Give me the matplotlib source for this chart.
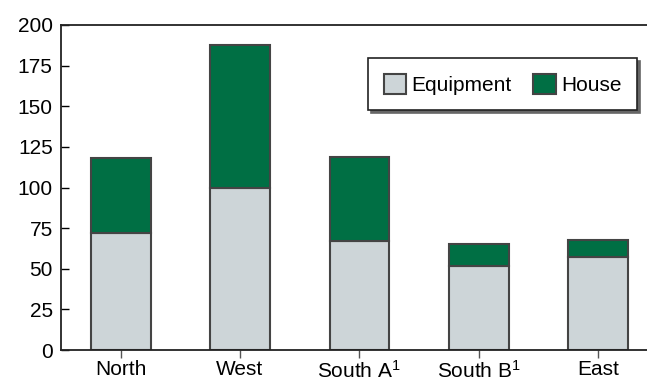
import matplotlib
matplotlib.use("Agg")
import matplotlib.pyplot as plt

plt.rcParams['font.family'] = ['Liberation Sans', 'DejaVu Sans']
plt.rcParams['mathtext.fontset'] = 'custom'
plt.rcParams['mathtext.rm'] = 'Liberation Sans'
plt.rcParams['mathtext.it'] = 'Liberation Sans'

regions = ['North', 'West', 'South A$^{1}$', 'South B$^{1}$', 'East']
equipment = [72, 100, 67, 52, 57]
house = [46, 88, 52, 13, 11]

c_equip = '#cdd5d8'
c_house = '#006f44'
edge = '#444444'

fig = plt.figure(figsize=(6.47, 3.83), dpi=100)
ax = fig.add_axes([61 / 647, 33 / 383, 1 - 61 / 647, (350 - 25) / 383])

x = list(range(len(regions)))
ax.bar(x, equipment, width=0.5, color=c_equip, edgecolor=edge, linewidth=1.5,
       label='Equipment', zorder=2)
ax.bar(x, house, width=0.5, bottom=equipment, color=c_house, edgecolor=edge,
       linewidth=1.5, label='House', zorder=2)

ax.set_xlim(-0.5, 4.41)
ax.set_ylim(0, 200)
ax.set_yticks(range(0, 201, 25))
ax.set_xticks(x)
ax.set_xticklabels(regions)
ax.tick_params(axis='y', direction='in', length=6, width=1, labelsize=15, pad=6)
ax.tick_params(axis='x', direction='out', length=6, width=1, labelsize=15, pad=1,
               color='#555555')
ax.spines['right'].set_visible(False)
for s in ['left', 'bottom', 'top']:
    ax.spines[s].set_linewidth(1.3)
    ax.spines[s].set_color('#222222')

leg = ax.legend(loc='upper right', bbox_to_anchor=(0.983, 0.898), ncol=2,
                fontsize=15, fancybox=False, framealpha=1, edgecolor='#222222',
                shadow={'color': '0.4', 'alpha': 1}, handlelength=1.1,
                handleheight=1.1, handletextpad=0.25, columnspacing=1.0,
                borderpad=0.75, borderaxespad=0)
leg.get_frame().set_linewidth(1.2)

fig.savefig('out.png', dpi=100)
